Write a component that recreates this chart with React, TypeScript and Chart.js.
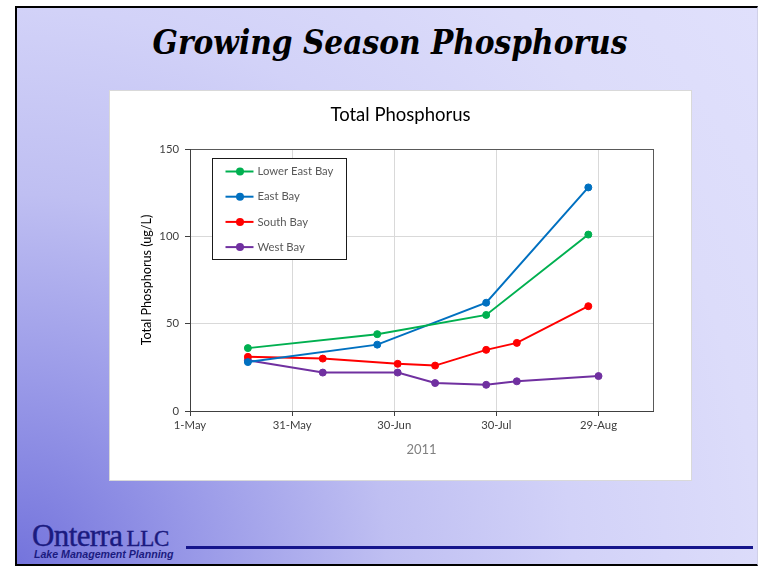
import React, { useEffect, useRef } from "react";
import { Chart, registerables } from "chart.js";

Chart.register(...registerables);

// ---------- data ----------
const seriesNames = ["Lower East Bay", "East Bay", "South Bay", "West Bay"];
const seriesColors = ["#00B050", "#0070C0", "#FF0000", "#7030A0"];

const lowerEastBayDates = ["2011-05-18", "2011-06-25", "2011-07-27", "2011-08-26"];
const lowerEastBayValues = [36, 44, 55, 101];

const eastBayDates = ["2011-05-18", "2011-06-25", "2011-07-27", "2011-08-26"];
const eastBayValues = [28, 38, 62, 128];

const southBayDates = ["2011-05-18", "2011-06-09", "2011-07-01", "2011-07-12", "2011-07-27", "2011-08-05", "2011-08-26"];
const southBayValues = [31, 30, 27, 26, 35, 39, 60];

const westBayDates = ["2011-05-18", "2011-06-09", "2011-07-01", "2011-07-12", "2011-07-27", "2011-08-05", "2011-08-29"];
const westBayValues = [29, 22, 22, 16, 15, 17, 20];

const xMinDate = "2011-05-01";
const xMaxDate = "2011-09-14";
const xTickDates = ["2011-05-01", "2011-05-31", "2011-06-30", "2011-07-30", "2011-08-29"];
const xTickLabels = ["1-May", "31-May", "30-Jun", "30-Jul", "29-Aug"];
const yMin = 0;
const yMax = 150;
const yStep = 50;

const chartTitle = "Total Phosphorus";
const yAxisTitle = "Total Phosphorus (ug/L)";
const xAxisTitle = "2011";

const dayIndex = (d: string) => (Date.parse(d) - Date.parse(xMinDate)) / 86400000;

const FONT = "Lato, 'Liberation Sans', sans-serif";

const legendPlugin = {
  id: "boxLegend",
  afterDraw(chart: any) {
    const ctx = chart.ctx;
    const left = 102.5, top = 67.5, w = 134, h = 101;
    ctx.save();
    ctx.fillStyle = "#ffffff";
    ctx.fillRect(left, top, w, h);
    ctx.strokeStyle = "#1a1a1a";
    ctx.lineWidth = 1;
    ctx.strokeRect(left, top, w, h);
    chart.data.datasets.forEach((ds: any, i: number) => {
      const y = top + 13 + i * 25.2;
      ctx.strokeStyle = ds.borderColor;
      ctx.lineWidth = 2;
      ctx.beginPath();
      ctx.moveTo(left + 13, y);
      ctx.lineTo(left + 41, y);
      ctx.stroke();
      ctx.fillStyle = ds.borderColor;
      ctx.beginPath();
      ctx.arc(left + 27.5, y, 4, 0, Math.PI * 2);
      ctx.fill();
      ctx.fillStyle = "#595959";
      ctx.font = `11.3px ${FONT}`;
      ctx.textBaseline = "middle";
      ctx.textAlign = "left";
      ctx.fillText(ds.label, left + 45, y);
    });
    ctx.restore();
  },
};

const framePlugin = {
  id: "plotFrame",
  beforeDatasetsDraw(chart: any) {
    const { ctx, chartArea } = chart;
    ctx.save();
    ctx.strokeStyle = "#595959";
    ctx.lineWidth = 1;
    ctx.strokeRect(
      Math.round(chartArea.left) + 0.5,
      Math.round(chartArea.top) + 0.5,
      Math.round(chartArea.right - chartArea.left),
      Math.round(chartArea.bottom - chartArea.top)
    );
    ctx.restore();
  },
};

export default function App() {
  const canvasRef = useRef<HTMLCanvasElement>(null);

  useEffect(() => {
    const canvas = canvasRef.current;
    if (!canvas) return;
    const seriesDates = [lowerEastBayDates, eastBayDates, southBayDates, westBayDates];
    const seriesValues = [lowerEastBayValues, eastBayValues, southBayValues, westBayValues];
    const datasets = seriesNames.map((name, s) => ({
      label: name,
      data: seriesDates[s].map((d, i) => ({ x: dayIndex(d), y: seriesValues[s][i] })),
      borderColor: seriesColors[s],
      backgroundColor: seriesColors[s],
      borderWidth: 2,
      pointRadius: 3.5,
      pointBorderWidth: 1,
      pointBackgroundColor: seriesColors[s],
      pointBorderColor: seriesColors[s],
      tension: 0,
      fill: false,
      xAxisID: "x",
      yAxisID: "y",
    }));

    const chart = new Chart(canvas, {
      type: "line",
      data: { datasets },
      options: {
        animation: false,
        responsive: false,
        devicePixelRatio: 1,
        layout: { padding: { left: 0, right: 0, top: 0, bottom: 0 } },
        plugins: {
          legend: { display: false },
          tooltip: { enabled: false },
          title: {
            display: true,
            text: chartTitle,
            color: "#000000",
            font: { family: FONT, size: 18.5, weight: "normal" },
            padding: { top: 13, bottom: 22.8 },
          },
        },
        scales: {
          x: {
            type: "linear",
            min: dayIndex(xMinDate),
            max: dayIndex(xMaxDate),
            afterBuildTicks: (scale: any) => {
              scale.ticks = xTickDates.map((d) => ({ value: dayIndex(d) }));
            },
            afterFit: (scale: any) => {
              scale.height = 69;
            },
            ticks: {
              autoSkip: false,
              maxRotation: 0,
              color: "#404040",
              font: { family: FONT, size: 11.3 },
              padding: 3,
              callback: (_v: any, i: number) => xTickLabels[i],
            },
            grid: {
              color: (c: any) => (c.tick && c.tick.value === 0 ? "rgba(0,0,0,0)" : "#d9d9d9"),
              tickColor: "#404040",
              tickLength: 5,
              lineWidth: 1,
            },
            border: { color: "#404040", width: 1, z: 1 },
            title: {
              display: true,
              text: xAxisTitle,
              color: "#808080",
              font: { family: FONT, size: 13 },
              padding: { top: 0, bottom: 22.2 },
            },
          },
          y: {
            min: yMin,
            max: yMax,
            afterFit: (scale: any) => {
              scale.width = 80;
            },
            ticks: {
              stepSize: yStep,
              color: "#404040",
              font: { family: FONT, size: 11.3 },
              padding: 6,
            },
            grid: {
              color: (c: any) => (c.tick && c.tick.value === 0 ? "rgba(0,0,0,0)" : "#d9d9d9"),
              tickColor: "#404040",
              tickLength: 5,
              lineWidth: 1,
            },
            border: { color: "#404040", width: 1, z: 1 },
            title: {
              display: true,
              text: yAxisTitle,
              color: "#000000",
              font: { family: FONT, size: 12.6 },
              padding: { top: 29.5, bottom: 0 },
            },
          },
          rightSpace: {
            position: "right",
            display: true,
            grid: { display: false, drawTicks: false },
            border: { display: false },
            ticks: { display: false },
            afterFit: (scale: any) => {
              scale.width = 38;
            },
          },
        },
      },
      plugins: [framePlugin, legendPlugin],
    } as any);

    return () => chart.destroy();
  }, []);

  return (
    <div style={{ position: "fixed", left: 0, top: 0, width: 758, height: 566, background: "#ffffff", overflow: "hidden" }}>
      <div
        style={{
          position: "absolute",
          left: 15,
          top: 6,
          width: 743,
          height: 560,
          boxSizing: "border-box",
          borderTop: "2px solid #000",
          borderLeft: "2px solid #000",
          borderBottom: "2px solid #000",
          borderRight: "1px solid #d0d0e8",
          background:
            "radial-gradient(circle at 0% 100%, #7474dc 0%, #9a9ae8 20%, #bfbff2 40%, #d2d2f8 60%, #dcdcfa 80%, #e0e0fc 100%)",
        }}
      />
      <div
        style={{
          position: "absolute",
          left: 40,
          width: 700,
          top: 23,
          textAlign: "center",
          fontFamily: "'DejaVu Serif', serif",
          fontStretch: "condensed",
          fontWeight: "bold",
          fontStyle: "italic",
          fontSize: 33,
          lineHeight: "40px",
          color: "#000",
          whiteSpace: "nowrap",
        }}
      >
        Growing Season Phosphorus
      </div>
      <div
        style={{
          position: "absolute",
          left: 109,
          top: 90,
          width: 583,
          height: 391,
          boxSizing: "border-box",
          border: "1px solid #d9d9d9",
          background: "#ffffff",
        }}
      >
        <canvas ref={canvasRef} width={581} height={389} style={{ display: "block", width: 581, height: 389 }} />
      </div>
      <div
        style={{
          position: "absolute",
          left: 32,
          top: 521,
          fontFamily: "'Liberation Serif', serif",
          color: "#1b1b80",
          whiteSpace: "nowrap",
          lineHeight: "30px",
          WebkitTextStroke: "0.4px #1b1b80",
        }}
      >
        <span style={{ fontSize: 31, letterSpacing: -0.6 }}>Onterra</span>
        <span style={{ fontSize: 23, marginLeft: 4, letterSpacing: -0.3 }}>LLC</span>
      </div>
      <div
        style={{
          position: "absolute",
          left: 34,
          top: 548,
          fontFamily: "'Liberation Sans', sans-serif",
          fontWeight: "bold",
          fontStyle: "italic",
          fontSize: 10.6,
          color: "#1b1b80",
          whiteSpace: "nowrap",
          lineHeight: "12px",
        }}
      >
        Lake Management Planning
      </div>
      <div style={{ position: "absolute", left: 186, top: 546, width: 567, height: 3, background: "#15158c" }} />
    </div>
  );
}
